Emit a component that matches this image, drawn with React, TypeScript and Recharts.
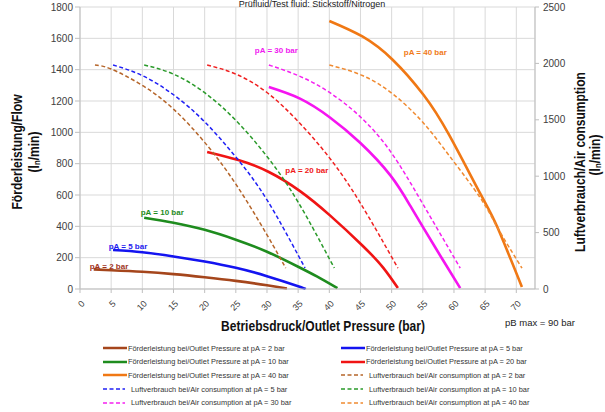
import React from 'react'
import { ComposedChart, Line, XAxis, YAxis, CartesianGrid, ReferenceDot } from 'recharts'

// outlet pressure (bar) -> flow / air consumption (l_n/min)
const flow2 = [[2.2, 125], [5, 120], [10, 110], [15, 95], [20, 75], [25, 52], [30, 24], [33.2, 3]]
const flow5 = [[5.3, 249], [10, 235], [15, 208], [20, 175], [25, 135], [30, 82], [35, 18], [36.2, 0]]
const flow10 = [[10.3, 455], [15, 423], [20, 378], [25, 315], [30, 238], [35, 142], [38, 80], [41.3, 5]]
const flow20 = [[20.4, 875], [25.4, 823], [30.3, 747], [35.3, 625], [40.1, 470], [45.3, 278], [48.6, 138], [51, 6]]
const flow30 = [[30.3, 1289], [35.3, 1215], [40.1, 1095], [44.9, 935], [49.8, 725], [53, 530], [55.1, 390], [58.3, 180], [61, 6]]
const flow40 = [[40, 1711], [45.3, 1612], [50.2, 1462], [55.1, 1240], [59.2, 985], [64.2, 610], [66.9, 400], [70.9, 13]]

const air2 = [[2.4, 1986], [5, 1950], [10, 1805], [15, 1595], [20, 1300], [25, 930], [30, 480], [33, 186]]
const air5 = [[5.3, 1986], [10, 1892], [15, 1722], [20, 1482], [25, 1170], [30, 790], [36.1, 186]]
const air10 = [[10.3, 1986], [15, 1905], [20, 1740], [25, 1495], [30, 1175], [35, 770], [40.8, 186]]
const air20 = [[20.4, 1986], [25, 1905], [30, 1742], [35, 1485], [40, 1165], [45, 760], [51, 186]]
const air30 = [[30.3, 1986], [35.3, 1885], [40.1, 1740], [44.9, 1530], [49.8, 1220], [55.1, 745], [61, 186]]
const air40 = [[40, 1986], [45.3, 1893], [50.2, 1728], [55, 1478], [59.4, 1170], [64.2, 810], [66.9, 552], [70.9, 186]]

const xTicks = [0, 5, 10, 15, 20, 25, 30, 35, 40, 45, 50, 55, 60, 65, 70]
const leftTicks = [0, 200, 400, 600, 800, 1000, 1200, 1400, 1600, 1800]
const rightTicks = [0, 500, 1000, 1500, 2000, 2500]

const curveLabels = [
  { text: 'pA = 2 bar', p: 4.65, v: 147, color: '#a0341e' },
  { text: 'pA = 5 bar', p: 7.7, v: 274, color: '#1f22ee' },
  { text: 'pA = 10 bar', p: 13.2, v: 491, color: '#1e8c1e' },
  { text: 'pA = 20 bar', p: 36.4, v: 760, color: '#f01818' },
  { text: 'pA = 30 bar', p: 31.5, v: 1526, color: '#f018f0' },
  { text: 'pA = 40 bar', p: 55.4, v: 1513, color: '#f07a18' },
]

const toPts = (rows: number[][]) => rows.map(([p, v]) => ({ p, v }))

const series = [
  { id: 'f2', rows: flow2, axis: 'left', color: '#a5461c', dashed: false, name: 'Förderleistung bei/Outlet Pressure at pA = 2 bar' },
  { id: 'f5', rows: flow5, axis: 'left', color: '#1414f0', dashed: false, name: 'Förderleistung bei/Outlet Pressure at pA = 5 bar' },
  { id: 'f10', rows: flow10, axis: 'left', color: '#1e8c1e', dashed: false, name: 'Förderleistung bei/Outlet Pressure at pA = 10 bar' },
  { id: 'f20', rows: flow20, axis: 'left', color: '#f01414', dashed: false, name: 'Förderleistung bei/Outlet Pressure at pA = 20 bar' },
  { id: 'f30', rows: flow30, axis: 'left', color: '#f514f0', dashed: false, name: '' },
  { id: 'f40', rows: flow40, axis: 'left', color: '#f07814', dashed: false, name: 'Förderleistung bei/Outlet Pressure at pA = 40 bar' },
  { id: 'a2', rows: air2, axis: 'right', color: '#b5652a', dashed: true, name: 'Luftverbrauch bei/Air consumption at pA = 2 bar' },
  { id: 'a5', rows: air5, axis: 'right', color: '#2020f5', dashed: true, name: 'Luftverbrauch bei/Air consumption at pA = 5 bar' },
  { id: 'a10', rows: air10, axis: 'right', color: '#2a9a2a', dashed: true, name: 'Luftverbrauch bei/Air consumption at pA = 10 bar' },
  { id: 'a20', rows: air20, axis: 'right', color: '#f02020', dashed: true, name: '' },
  { id: 'a30', rows: air30, axis: 'right', color: '#f520f0', dashed: true, name: 'Luftverbrauch bei/Air consumption at pA = 30 bar' },
  { id: 'a40', rows: air40, axis: 'right', color: '#f08a30', dashed: true, name: 'Luftverbrauch bei/Air consumption at pA = 40 bar' },
]

// legend reads row by row, two columns
const legendOrder = ['f2', 'f5', 'f10', 'f20', 'f40', 'a2', 'a5', 'a10', 'a30', 'a40']

const FONT = '"Liberation Sans", Arial, sans-serif'

const XTick = (props: any) => {
  const { x, y, payload } = props
  const ax = x + 3
  const ay = y + 7
  return (
    <text x={ax} y={ay} transform={`rotate(-45 ${ax} ${ay})`} textAnchor="end" dy="0.35em"
      fontSize={9} fill="#404040" fontFamily={FONT}>
      {payload.value}
    </text>
  )
}

const Legend = () => (
  <div style={{ position: 'absolute', left: 0, top: 0, width: 605, height: 412, pointerEvents: 'none' }}>
    {legendOrder.map((id, i) => {
      const s = series.find(d => d.id === id)!
      const col = i % 2
      const row = Math.floor(i / 2)
      const left = col === 0 ? 103 : 341
      const top = 348 + row * 13.7
      return (
        <div key={id} style={{ position: 'absolute', left, top: top - 6, height: 12, display: 'flex', alignItems: 'center', whiteSpace: 'nowrap' }}>
          <svg width={24} height={12} style={{ display: 'block' }}>
            <line x1={0} y1={6} x2={s.dashed ? 22 : 24} y2={6} stroke={s.color}
              strokeWidth={s.dashed ? 1.5 : 2.5} strokeDasharray={s.dashed ? '4 2.5' : undefined} />
          </svg>
          <span style={{ fontFamily: FONT, fontSize: 7.4, color: '#333', marginLeft: s.dashed ? 4 : 1 }}>{s.name}</span>
        </div>
      )
    })}
  </div>
)

// bold titles in the sheet use a condensed face; squeeze Liberation Sans instead
const Titles = () => (
  <svg width={605} height={412} style={{ position: 'absolute', left: 0, top: 0, pointerEvents: 'none' }}>
    <text x={312} y={6.5} textAnchor="middle" fontSize={9} fontFamily={FONT} fill="#222">
      Prüfluid/Test fluid: Stickstoff/Nitrogen
    </text>
    <g fontFamily={FONT} fontWeight="bold" fontSize={14} fill="#111">
      <text transform="translate(17 152) rotate(-90) scale(0.86 1)" textAnchor="middle" dominantBaseline="central">Förderleistung/Flow</text>
      <text transform="translate(34 152) rotate(-90) scale(0.86 1)" textAnchor="middle" dominantBaseline="central">
        (l<tspan fontSize={9} dy={3}>n</tspan><tspan dy={-3}>/min)</tspan>
      </text>
      <text transform="translate(580 162) rotate(-90) scale(0.86 1)" textAnchor="middle" dominantBaseline="central">Luftverbrauch/Air consumption</text>
      <text transform="translate(595 155) rotate(-90) scale(0.86 1)" textAnchor="middle" dominantBaseline="central">
        (l<tspan fontSize={9} dy={3}>n</tspan><tspan dy={-3}>/min)</tspan>
      </text>
      <text transform="translate(323 331) scale(0.86 1)" textAnchor="middle">Betriebsdruck/Outlet Pressure  (bar)</text>
    </g>
    <text x={505} y={326} fontSize={9.5} fontFamily={FONT} fill="#222">pB max = 90 bar</text>
  </svg>
)

export default function App() {
  return (
    <div style={{ position: 'absolute', left: 0, top: 0, width: 605, height: 412, background: '#fff', overflow: 'hidden' }}>
      <ComposedChart width={605} height={412} margin={{ top: 7, right: 0, left: 0, bottom: 93 }}>
        <CartesianGrid yAxisId="left" stroke="#d9d9d9" strokeWidth={1} />
        <XAxis dataKey="p" type="number" domain={[0, 73]} ticks={xTicks} allowDataOverflow height={30}
          tick={<XTick />} tickSize={4} stroke="#bfbfbf" interval={0} />
        <YAxis yAxisId="left" domain={[0, 1800]} ticks={leftTicks} width={80} tickSize={5} tickMargin={2}
          stroke="#bfbfbf" tick={{ fontSize: 10, fill: '#404040', fontFamily: FONT }} interval={0} />
        <YAxis yAxisId="right" orientation="right" domain={[0, 2500]} ticks={rightTicks} width={70} tickSize={4}
          tickMargin={4} stroke="#bfbfbf" tick={{ fontSize: 10, fill: '#404040', fontFamily: FONT }} interval={0} />
        {series.map(s => (
          <Line key={s.id} data={toPts(s.rows)} dataKey="v" yAxisId={s.axis} type="natural" dot={false}
            stroke={s.color} strokeWidth={s.dashed ? 1.5 : 2.6} strokeDasharray={s.dashed ? '4 2.5' : undefined}
            isAnimationActive={false} />
        ))}
        {curveLabels.map(l => (
          <ReferenceDot key={l.text} x={l.p} y={l.v} yAxisId="left" r={0} fill="none" stroke="none"
            label={{ value: l.text, position: 'center', fill: l.color, fontSize: 8, fontWeight: 'bold', fontFamily: FONT }} />
        ))}
      </ComposedChart>
      <Titles />
      <Legend />
    </div>
  )
}
